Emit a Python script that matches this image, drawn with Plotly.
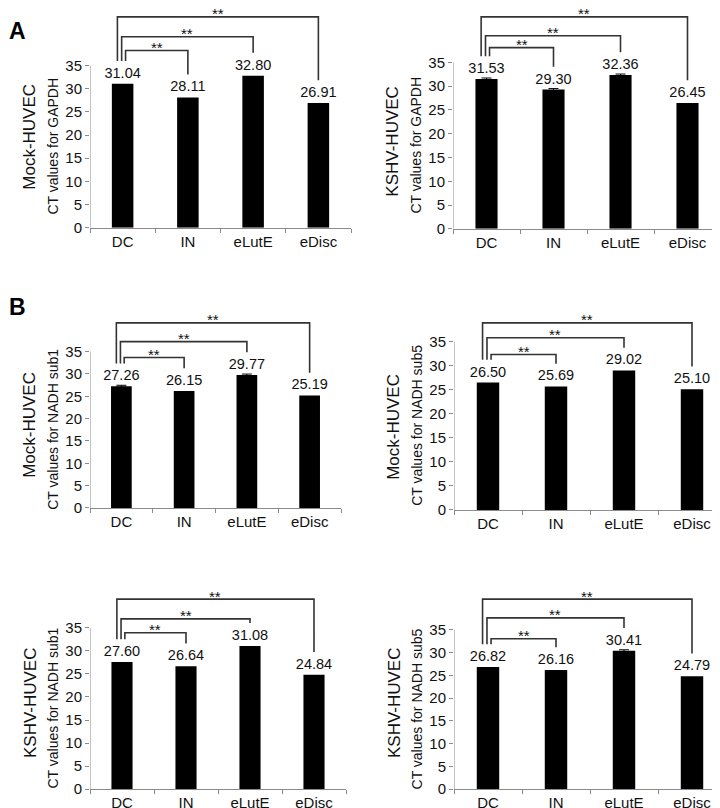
import plotly.graph_objects as go

# ---------------- data ----------------
categories = ["DC", "IN", "eLutE", "eDisc"]
tick_vals = [0, 5, 10, 15, 20, 25, 30, 35]

mock_gapdh = [31.04, 28.11, 32.80, 26.91]
kshv_gapdh = [31.53, 29.30, 32.36, 26.45]
mock_nadh1 = [27.26, 26.15, 29.77, 25.19]
mock_nadh5 = [26.50, 25.69, 29.02, 25.10]
kshv_nadh1 = [27.60, 26.64, 31.08, 24.84]
kshv_nadh5 = [26.82, 26.16, 30.41, 24.79]

mock_gapdh_err = [0.0, 0.0, 0.0, 0.0]
kshv_gapdh_err = [0.2, 0.2, 0.2, 0.0]
mock_nadh1_err = [0.2, 0.0, 0.2, 0.0]
mock_nadh5_err = [0.0, 0.0, 0.0, 0.0]
kshv_nadh1_err = [0.0, 0.0, 0.0, 0.0]
kshv_nadh5_err = [0.0, 0.0, 0.2, 0.0]

cell_labels = ["Mock-HUVEC", "KSHV-HUVEC", "Mock-HUVEC", "Mock-HUVEC", "KSHV-HUVEC", "KSHV-HUVEC"]
gene_titles = ["CT values for GAPDH", "CT values for GAPDH", "CT values for NADH sub1",
               "CT values for NADH sub5", "CT values for NADH sub1", "CT values for NADH sub5"]
significance = "**"

series = [mock_gapdh, kshv_gapdh, mock_nadh1, mock_nadh5, kshv_nadh1, kshv_nadh5]
errors = [mock_gapdh_err, kshv_gapdh_err, mock_nadh1_err, mock_nadh5_err, kshv_nadh1_err, kshv_nadh5_err]

# ---------------- layout geometry (pixels) ----------------
W, H = 720, 808
# axis_x0, axis_x1, y0 (value 0), y35 (value 35), top px of domain, bracket px [IN, eLutE, eDisc]
geom = [
    (82, 343, 222, 58, 0, [43, 29, 9]),
    (445, 713, 223, 55, 0, [40, 28, 9]),
    (82, 333, 505, 347, 300, [353, 337, 318]),
    (446, 718, 507, 337, 300, [350, 333, 318]),
    (82, 338, 789, 626, 580, [631, 617, 597]),
    (446, 718, 789, 628, 580, [637, 616, 597]),
]
label_y = [130, 135, 421, 423, 702, 702]

FONT = "Arial, Liberation Sans, sans-serif"
AXC = "#8a8a8a"
BRC = "#333333"

fig = go.Figure()
shapes = []
annotations = []

def px2fx(p):
    return p / W

def px2fy(p):
    return 1 - p / H

for i, (vals, errs, g) in enumerate(zip(series, errors, geom)):
    ax0, ax1, y0, y35, top, brk = g
    ppu = (y0 - y35) / 35.0
    ymax = (y0 - top) / ppu
    k = "" if i == 0 else str(i + 1)
    xa, ya = "x" + k, "y" + k
    fig.add_trace(go.Bar(
        x=categories, y=vals, xaxis=xa, yaxis=ya,
        marker=dict(color="black", line=dict(width=0)),
        width=0.33,
        text=[f"{v:.2f}" for v in vals], textposition="outside",
        textfont=dict(family=FONT, size=14.5, color="#111"),
        constraintext="none", cliponaxis=False, showlegend=False,
        hoverinfo="x+y",
    ))
    ex = [c for c, e in zip(categories, errs) if e > 0]
    ey = [v for v, e in zip(vals, errs) if e > 0]
    ee = [e for e in errs if e > 0]
    if ex:
        fig.add_trace(go.Scatter(
            x=ex, y=ey, xaxis=xa, yaxis=ya, mode="markers",
            marker=dict(size=1, color="rgba(0,0,0,0)"),
            error_y=dict(type="data", array=ee, visible=True, color="black", thickness=1, width=5),
            showlegend=False, hoverinfo="skip",
        ))
    fig.layout["xaxis" + k] = dict(
        domain=[px2fx(ax0), px2fx(ax1)], anchor=ya, type="category",
        categoryorder="array", categoryarray=categories,
        range=[-0.5, 3.5], showline=True, linecolor=AXC, linewidth=1,
        ticks="outside", tickson="boundaries", ticklen=4, tickcolor=AXC,
        showgrid=False, zeroline=False,
        tickfont=dict(family=FONT, size=15, color="#111"),
    )
    fig.layout["yaxis" + k] = dict(
        domain=[px2fy(y0), px2fy(top)], anchor=xa, range=[0, ymax],
        tickvals=tick_vals, ticks="outside", ticklen=4, tickcolor=AXC,
        showline=False, showgrid=False, zeroline=False,
        tickfont=dict(family=FONT, size=15, color="#111"),
    )
    # y axis line only from 0 to 35
    shapes.append(dict(type="line", xref=xa, yref=ya, x0=-0.5, x1=-0.5, y0=0, y1=35,
                       line=dict(color=AXC, width=1)))
    # brackets
    gap = 23 / ppu
    dc_bottom = vals[0] + gap
    left_off = [0.045, -0.015, -0.08]
    for j, tgt in enumerate([1, 2, 3]):
        lvl = (y0 - brk[j]) / ppu
        xl = 0 + left_off[j]
        xr = tgt
        rb = vals[tgt] + gap
        shapes.append(dict(type="path", xref=xa, yref=ya,
                           path=f"M {xl},{dc_bottom} L {xl},{lvl} L {xr},{lvl} L {xr},{rb}",
                           line=dict(color=BRC, width=1.6)))
        annotations.append(dict(xref=xa, yref=ya, x=(xl + xr) / 2, y=lvl, text=significance,
                                showarrow=False, yanchor="middle", yshift=3,
                                font=dict(family=FONT, size=15, color="#111")))
    # axis titles
    annotations.append(dict(xref="paper", yref="paper", x=px2fx(ax0 - 37), y=px2fy((y0 + y35) / 2),
                            text=gene_titles[i], textangle=-90, showarrow=False,
                            xanchor="center", yanchor="middle",
                            font=dict(family=FONT, size=14, color="#111")))
    annotations.append(dict(xref="paper", yref="paper", x=px2fx(ax0 - 60), y=px2fy(label_y[i]),
                            text=cell_labels[i], textangle=-90, showarrow=False,
                            xanchor="center", yanchor="middle",
                            font=dict(family=FONT, size=17, color="#111")))

annotations.append(dict(xref="paper", yref="paper", x=px2fx(9), y=px2fy(23), text="<b>A</b>",
                        showarrow=False, xanchor="center", yanchor="middle",
                        font=dict(family=FONT, size=23, color="black")))
annotations.append(dict(xref="paper", yref="paper", x=px2fx(9), y=px2fy(302), text="<b>B</b>",
                        showarrow=False, xanchor="center", yanchor="middle",
                        font=dict(family=FONT, size=23, color="black")))

fig.update_layout(
    width=W, height=H, margin=dict(l=0, r=0, t=0, b=0),
    paper_bgcolor="white", plot_bgcolor="white",
    shapes=shapes, annotations=annotations,
    font=dict(family=FONT),
)

fig.write_html("out.html")
